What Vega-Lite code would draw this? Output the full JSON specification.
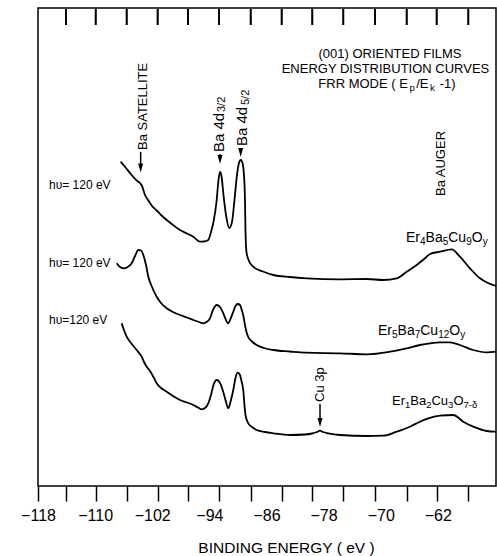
{
  "$schema": "https://vega.github.io/schema/vega-lite/v6.json",
  "width": 458,
  "height": 478,
  "autosize": {"type": "none"},
  "padding": {"left": 38, "top": 8, "right": 1, "bottom": 70},
  "background": "white",
  "config": {"view": {"stroke": "black", "strokeWidth": 1.5}},
  "datasets": {
    "curves": [
      {"s":"a","E":-106.42,"C":324.3},{"s":"a","E":-105.68,"C":318},{"s":"a","E":-104.88,"C":311},{"s":"a","E":-104.18,"C":305.5},{"s":"a","E":-103.71,"C":303},{"s":"a","E":-103.43,"C":300},{"s":"a","E":-103.01,"C":291},{"s":"a","E":-102.59,"C":286},{"s":"a","E":-102.03,"C":280},{"s":"a","E":-101.38,"C":275.5},{"s":"a","E":-100.77,"C":271},{"s":"a","E":-99.97,"C":266},{"s":"a","E":-99.09,"C":261},{"s":"a","E":-98.11,"C":256},{"s":"a","E":-97.13,"C":252.5},{"s":"a","E":-96.25,"C":249.3},{"s":"a","E":-95.31,"C":244.3},{"s":"a","E":-94.75,"C":244.5},{"s":"a","E":-94.15,"C":246},{"s":"a","E":-93.77,"C":254},{"s":"a","E":-93.45,"C":263},{"s":"a","E":-92.97,"C":286},{"s":"a","E":-92.72,"C":306},{"s":"a","E":-92.51,"C":314},{"s":"a","E":-92.30,"C":310},{"s":"a","E":-92.02,"C":291},{"s":"a","E":-91.67,"C":271},{"s":"a","E":-91.21,"C":258},{"s":"a","E":-90.83,"C":264},{"s":"a","E":-90.48,"C":286},{"s":"a","E":-90.13,"C":311},{"s":"a","E":-89.85,"C":323},{"s":"a","E":-89.61,"C":326},{"s":"a","E":-89.36,"C":323},{"s":"a","E":-89.15,"C":311},{"s":"a","E":-89.01,"C":286},{"s":"a","E":-88.94,"C":256},{"s":"a","E":-88.80,"C":234},{"s":"a","E":-88.45,"C":225},{"s":"a","E":-87.85,"C":219.3},{"s":"a","E":-86.49,"C":214.5},{"s":"a","E":-85.04,"C":211},{"s":"a","E":-82.71,"C":209},{"s":"a","E":-80.37,"C":207.7},{"s":"a","E":-75.70,"C":206.7},{"s":"a","E":-71.96,"C":207},{"s":"a","E":-69.64,"C":206},{"s":"a","E":-67.76,"C":207.7},{"s":"a","E":-66.36,"C":214.3},{"s":"a","E":-64.96,"C":221},{"s":"a","E":-63.80,"C":227.7},{"s":"a","E":-63.10,"C":232},{"s":"a","E":-61.70,"C":234.3},{"s":"a","E":-60.06,"C":236.7},{"s":"a","E":-58.90,"C":229.3},{"s":"a","E":-57.50,"C":217.7},{"s":"a","E":-56.10,"C":207.7},{"s":"a","E":-54.97,"C":203},{"s":"a","E":-53.85,"C":200},
      {"s":"b","E":-106.98,"C":222.7},{"s":"b","E":-106.52,"C":219},{"s":"b","E":-106.05,"C":217.7},{"s":"b","E":-105.54,"C":218.5},{"s":"b","E":-104.88,"C":222.7},{"s":"b","E":-104.41,"C":230},{"s":"b","E":-103.95,"C":236},{"s":"b","E":-103.57,"C":235.5},{"s":"b","E":-103.25,"C":231},{"s":"b","E":-102.87,"C":221},{"s":"b","E":-102.55,"C":209.3},{"s":"b","E":-102.03,"C":199},{"s":"b","E":-101.38,"C":189.3},{"s":"b","E":-100.77,"C":183},{"s":"b","E":-99.97,"C":177.7},{"s":"b","E":-99.09,"C":174},{"s":"b","E":-98.11,"C":171},{"s":"b","E":-97.13,"C":168.5},{"s":"b","E":-96.25,"C":166},{"s":"b","E":-95.45,"C":164},{"s":"b","E":-94.85,"C":162.7},{"s":"b","E":-94.40,"C":164},{"s":"b","E":-93.91,"C":167.7},{"s":"b","E":-93.49,"C":176},{"s":"b","E":-92.97,"C":181},{"s":"b","E":-92.51,"C":179},{"s":"b","E":-92.05,"C":172.7},{"s":"b","E":-91.67,"C":166},{"s":"b","E":-91.35,"C":162.7},{"s":"b","E":-91.04,"C":167},{"s":"b","E":-90.65,"C":174.3},{"s":"b","E":-90.34,"C":180},{"s":"b","E":-90.03,"C":182},{"s":"b","E":-89.71,"C":181},{"s":"b","E":-89.50,"C":177},{"s":"b","E":-89.25,"C":170.5},{"s":"b","E":-89.01,"C":161},{"s":"b","E":-88.80,"C":154},{"s":"b","E":-88.55,"C":149},{"s":"b","E":-88.03,"C":144.5},{"s":"b","E":-87.37,"C":141},{"s":"b","E":-86.35,"C":138},{"s":"b","E":-85.04,"C":136},{"s":"b","E":-82.71,"C":134.5},{"s":"b","E":-80.37,"C":133.3},{"s":"b","E":-75.70,"C":132.7},{"s":"b","E":-71.96,"C":131.7},{"s":"b","E":-68.70,"C":134.3},{"s":"b","E":-66.36,"C":137.7},{"s":"b","E":-64.50,"C":141},{"s":"b","E":-63.10,"C":142.7},{"s":"b","E":-61.70,"C":143.7},{"s":"b","E":-60.30,"C":143.7},{"s":"b","E":-58.90,"C":141},{"s":"b","E":-57.03,"C":136},{"s":"b","E":-55.16,"C":133.7},{"s":"b","E":-53.85,"C":134.3},
      {"s":"c","E":-106.28,"C":162.7},{"s":"c","E":-105.96,"C":156},{"s":"c","E":-105.58,"C":149.3},{"s":"c","E":-104.97,"C":143},{"s":"c","E":-104.18,"C":136},{"s":"c","E":-103.48,"C":129.3},{"s":"c","E":-103.15,"C":124},{"s":"c","E":-102.78,"C":119.3},{"s":"c","E":-102.31,"C":115},{"s":"c","E":-101.85,"C":109.3},{"s":"c","E":-101.38,"C":102.7},{"s":"c","E":-100.77,"C":98},{"s":"c","E":-99.97,"C":94.3},{"s":"c","E":-99.09,"C":90},{"s":"c","E":-98.11,"C":86},{"s":"c","E":-97.13,"C":83.5},{"s":"c","E":-96.25,"C":81},{"s":"c","E":-95.59,"C":78.5},{"s":"c","E":-95.07,"C":76.7},{"s":"c","E":-94.61,"C":78},{"s":"c","E":-94.15,"C":82.7},{"s":"c","E":-93.77,"C":91},{"s":"c","E":-93.42,"C":101},{"s":"c","E":-92.97,"C":106},{"s":"c","E":-92.58,"C":104},{"s":"c","E":-92.13,"C":96},{"s":"c","E":-91.74,"C":86},{"s":"c","E":-91.35,"C":77.7},{"s":"c","E":-90.97,"C":86},{"s":"c","E":-90.65,"C":96},{"s":"c","E":-90.34,"C":108},{"s":"c","E":-90.03,"C":113.3},{"s":"c","E":-89.71,"C":111},{"s":"c","E":-89.50,"C":105},{"s":"c","E":-89.25,"C":96},{"s":"c","E":-89.08,"C":81},{"s":"c","E":-88.94,"C":71},{"s":"c","E":-88.55,"C":62.7},{"s":"c","E":-88.03,"C":59},{"s":"c","E":-87.37,"C":56},{"s":"c","E":-86.21,"C":54},{"s":"c","E":-85.04,"C":52.7},{"s":"c","E":-82.71,"C":51},{"s":"c","E":-80.61,"C":51.5},{"s":"c","E":-79.62,"C":52.5},{"s":"c","E":-78.92,"C":54},{"s":"c","E":-78.50,"C":55.3},{"s":"c","E":-78.08,"C":54},{"s":"c","E":-77.34,"C":52.7},{"s":"c","E":-75.70,"C":51},{"s":"c","E":-71.96,"C":50},{"s":"c","E":-69.64,"C":50.3},{"s":"c","E":-67.76,"C":54.3},{"s":"c","E":-65.90,"C":59.3},{"s":"c","E":-64.50,"C":64.3},{"s":"c","E":-63.34,"C":67.7},{"s":"c","E":-61.70,"C":70.3},{"s":"c","E":-59.83,"C":71},{"s":"c","E":-58.43,"C":64.3},{"s":"c","E":-57.03,"C":59.3},{"s":"c","E":-55.16,"C":55},{"s":"c","E":-53.85,"C":54.3},
      {"s":"t01","E":-114.08,"C":477},{"s":"t01","E":-114.08,"C":461},
      {"s":"t02","E":-109.92,"C":477},{"s":"t02","E":-109.92,"C":461},
      {"s":"t03","E":-105.58,"C":477},{"s":"t03","E":-105.58,"C":461},
      {"s":"t04","E":-101.24,"C":477},{"s":"t04","E":-101.24,"C":461},
      {"s":"t05","E":-96.99,"C":477},{"s":"t05","E":-96.99,"C":461},
      {"s":"t06","E":-92.65,"C":477},{"s":"t06","E":-92.65,"C":461},
      {"s":"t07","E":-88.21,"C":477},{"s":"t07","E":-88.21,"C":461},
      {"s":"t08","E":-83.87,"C":477},{"s":"t08","E":-83.87,"C":461},
      {"s":"t09","E":-79.58,"C":477},{"s":"t09","E":-79.58,"C":461},
      {"s":"t10","E":-75.24,"C":477},{"s":"t10","E":-75.24,"C":461},
      {"s":"t11","E":-70.8,"C":477},{"s":"t11","E":-70.8,"C":461},
      {"s":"t12","E":-66.36,"C":477},{"s":"t12","E":-66.36,"C":461},
      {"s":"t13","E":-62.16,"C":477},{"s":"t13","E":-62.16,"C":461},
      {"s":"t14","E":-57.73,"C":477},{"s":"t14","E":-57.73,"C":461}
    ],
    "topticks": [
      {"E":-114.08,"C":477,"C2":461},{"E":-109.92,"C":477,"C2":461},{"E":-105.58,"C":477,"C2":461},{"E":-101.24,"C":477,"C2":461},{"E":-96.99,"C":477,"C2":461},{"E":-92.65,"C":477,"C2":461},{"E":-88.21,"C":477,"C2":461},{"E":-83.87,"C":477,"C2":461},{"E":-79.58,"C":477,"C2":461},{"E":-75.24,"C":477,"C2":461},{"E":-70.8,"C":477,"C2":461},{"E":-66.36,"C":477,"C2":461},{"E":-62.16,"C":477,"C2":461},{"E":-57.73,"C":477,"C2":461}
    ],
    "rules": [
      {"E":-103.62,"C":334,"C2":318},
      {"E":-92.51,"C":332,"C2":326.5},
      {"E":-89.61,"C":338,"C2":333.5},
      {"E":-78.50,"C":82,"C2":63.5}
    ],
    "heads": [
      {"E":-103.62,"C":318},
      {"E":-92.51,"C":326.5},
      {"E":-89.61,"C":333.5},
      {"E":-78.50,"C":63.5}
    ],
    "hv": [
      {"t":"hυ= 120 eV","E":-116.46,"C":297},
      {"t":"hυ= 120 eV","E":-116.46,"C":219},
      {"t":"hυ=120 eV","E":-116.46,"C":162}
    ],
    "titles": [
      {"t":"(001) ORIENTED FILMS","E":-68.70,"C":428},
      {"t":"ENERGY DISTRIBUTION CURVES","E":-69.33,"C":413}
    ],
    "line3": [
      {"t":"FRR MODE ( E","E":-78.74,"C":398},
      {"t":"/E","E":-65.03,"C":398},
      {"t":"-1)","E":-61.73,"C":398}
    ],
    "line3sub": [
      {"t":"p","E":-65.98,"C":395},
      {"t":"k","E":-63.10,"C":395}
    ],
    "f14": [
      {"t":"Er","E":-66.46,"C":244},{"t":"Ba","E":-63.71,"C":244},{"t":"Cu","E":-60.54,"C":244},{"t":"O","E":-57.24,"C":244},
      {"t":"Er","E":-70.38,"C":151},{"t":"Ba","E":-67.64,"C":151},{"t":"Cu","E":-64.46,"C":151},{"t":"O","E":-60.39,"C":151}
    ],
    "f10": [
      {"t":"4","E":-64.50,"C":241},{"t":"5","E":-61.32,"C":241},{"t":"9","E":-58.03,"C":241},{"t":"y","E":-55.72,"C":241},
      {"t":"5","E":-68.42,"C":148},{"t":"7","E":-65.24,"C":148},{"t":"12","E":-61.95,"C":148},{"t":"y","E":-58.87,"C":148}
    ],
    "f13": [
      {"t":"Er","E":-68.42,"C":81},{"t":"Ba","E":-65.86,"C":81},{"t":"Cu","E":-62.89,"C":81},{"t":"O","E":-59.82,"C":81}
    ],
    "f9": [
      {"t":"1","E":-66.60,"C":78},{"t":"2","E":-63.63,"C":78},{"t":"3","E":-60.56,"C":78},{"t":"7-δ","E":-58.41,"C":78}
    ],
    "rot": [
      {"t":"Ba SATELLITE","E":-103.36,"C":336},
      {"t":"Ba AUGER","E":-61.56,"C":290},
      {"t":"Cu 3p","E":-78.50,"C":84}
    ],
    "rot4d": [
      {"t":"Ba 4d","E":-92.65,"C":334},
      {"t":"Ba 4d","E":-89.36,"C":340}
    ],
    "rotsub": [
      {"t":"3/2","E":-92.16,"C":374},
      {"t":"5/2","E":-88.87,"C":381}
    ]
  },
  "resolve": {"axis": {"x": "independent"}},
  "layer": [
    {
      "data": {"name": "curves"},
      "mark": {"type": "line", "color": "black", "strokeWidth": 1.8, "interpolate": "monotone"},
      "encoding": {
        "x": {
          "field": "E", "type": "quantitative",
          "scale": {"domain": [-118, -53.85], "nice": false, "zero": false},
          "axis": {
            "orient": "bottom", "grid": false, "domain": false,
            "values": [-118, -110, -102, -94, -86, -78, -70, -62, -114.08, -109.92, -105.58, -101.24, -96.99, -92.65, -88.21, -83.87, -79.58, -75.24, -70.8, -66.36, -62.16, -57.73],
            "format": "d",
            "labelExpr": "datum.value % 1 === 0 ? datum.label : ''",
            "tickOpacity": {"condition": {"test": "datum.value % 1 !== 0 || datum.value === -118", "value": 1}, "value": 0},
            "tickSize": 15, "tickWidth": 1.5, "tickColor": "black",
            "labelFont": "Liberation Sans", "labelFontSize": 16, "labelColor": "black", "labelPadding": 6,
            "labelOverlap": false, "labelFlush": false, "labelBound": false,
            "title": "BINDING ENERGY ( eV )", "titleFont": "Liberation Sans", "titleFontSize": 15.5, "titleFontWeight": "normal", "titleColor": "black",
            "titleX": 248, "titleY": 66, "titleAlign": "center", "titleBaseline": "alphabetic", "titleAngle": 0
          }
        },
        "y": {
          "field": "C", "type": "quantitative",
          "scale": {"domain": [0, 478], "nice": false, "zero": false},
          "axis": {
            "orient": "left", "grid": false, "domain": false, "ticks": false, "labels": false,
            "title": "ELECTRON COUNTS ( ARBITRARY SCALE)", "titleFont": "Liberation Sans", "titleFontSize": 16.5, "titleFontWeight": "normal", "titleColor": "black",
            "titleX": -19, "titleY": 243.5, "titleAngle": 270, "titleAlign": "center", "titleBaseline": "middle"
          }
        },
        "detail": {"field": "s", "type": "nominal"}
      }
    },
    {
      "data": {"name": "rules"},
      "mark": {"type": "rule", "color": "black", "strokeWidth": 1.5},
      "encoding": {
        "x": {"field": "E", "type": "quantitative", "axis": null},
        "y": {"field": "C", "type": "quantitative", "axis": null},
        "y2": {"field": "C2"}
      }
    },
    {
      "data": {"name": "heads"},
      "mark": {"type": "point", "shape": "M-0.55,-1L0.55,-1L0,1Z", "size": 81, "filled": true, "color": "black", "opacity": 1},
      "encoding": {
        "x": {"field": "E", "type": "quantitative", "axis": null},
        "y": {"field": "C", "type": "quantitative", "axis": null}
      }
    },
    {
      "data": {"name": "hv"},
      "mark": {"type": "text", "font": "Liberation Sans", "fontSize": 12, "align": "left", "baseline": "alphabetic", "color": "black"},
      "encoding": {
        "x": {"field": "E", "type": "quantitative", "axis": null},
        "y": {"field": "C", "type": "quantitative", "axis": null},
        "text": {"field": "t"}
      }
    },
    {
      "data": {"name": "titles"},
      "mark": {"type": "text", "font": "Liberation Sans", "fontSize": 13, "align": "center", "baseline": "alphabetic", "color": "black"},
      "encoding": {
        "x": {"field": "E", "type": "quantitative", "axis": null},
        "y": {"field": "C", "type": "quantitative", "axis": null},
        "text": {"field": "t"}
      }
    },
    {
      "data": {"name": "line3"},
      "mark": {"type": "text", "font": "Liberation Sans", "fontSize": 13, "align": "left", "baseline": "alphabetic", "color": "black"},
      "encoding": {
        "x": {"field": "E", "type": "quantitative", "axis": null},
        "y": {"field": "C", "type": "quantitative", "axis": null},
        "text": {"field": "t"}
      }
    },
    {
      "data": {"name": "line3sub"},
      "mark": {"type": "text", "font": "Liberation Sans", "fontSize": 9.5, "align": "left", "baseline": "alphabetic", "color": "black"},
      "encoding": {
        "x": {"field": "E", "type": "quantitative", "axis": null},
        "y": {"field": "C", "type": "quantitative", "axis": null},
        "text": {"field": "t"}
      }
    },
    {
      "data": {"name": "f14"},
      "mark": {"type": "text", "font": "Liberation Sans", "fontSize": 14, "align": "left", "baseline": "alphabetic", "color": "black"},
      "encoding": {
        "x": {"field": "E", "type": "quantitative", "axis": null},
        "y": {"field": "C", "type": "quantitative", "axis": null},
        "text": {"field": "t"}
      }
    },
    {
      "data": {"name": "f10"},
      "mark": {"type": "text", "font": "Liberation Sans", "fontSize": 10, "align": "left", "baseline": "alphabetic", "color": "black"},
      "encoding": {
        "x": {"field": "E", "type": "quantitative", "axis": null},
        "y": {"field": "C", "type": "quantitative", "axis": null},
        "text": {"field": "t"}
      }
    },
    {
      "data": {"name": "f13"},
      "mark": {"type": "text", "font": "Liberation Sans", "fontSize": 13, "align": "left", "baseline": "alphabetic", "color": "black"},
      "encoding": {
        "x": {"field": "E", "type": "quantitative", "axis": null},
        "y": {"field": "C", "type": "quantitative", "axis": null},
        "text": {"field": "t"}
      }
    },
    {
      "data": {"name": "f9"},
      "mark": {"type": "text", "font": "Liberation Sans", "fontSize": 9.5, "align": "left", "baseline": "alphabetic", "color": "black"},
      "encoding": {
        "x": {"field": "E", "type": "quantitative", "axis": null},
        "y": {"field": "C", "type": "quantitative", "axis": null},
        "text": {"field": "t"}
      }
    },
    {
      "data": {"name": "rot"},
      "mark": {"type": "text", "font": "Liberation Sans", "fontSize": 13, "align": "left", "baseline": "middle", "angle": 270, "color": "black"},
      "encoding": {
        "x": {"field": "E", "type": "quantitative", "axis": null},
        "y": {"field": "C", "type": "quantitative", "axis": null},
        "text": {"field": "t"}
      }
    },
    {
      "data": {"name": "rot4d"},
      "mark": {"type": "text", "font": "Liberation Sans", "fontSize": 15, "align": "left", "baseline": "middle", "angle": 270, "color": "black"},
      "encoding": {
        "x": {"field": "E", "type": "quantitative", "axis": null},
        "y": {"field": "C", "type": "quantitative", "axis": null},
        "text": {"field": "t"}
      }
    },
    {
      "data": {"name": "rotsub"},
      "mark": {"type": "text", "font": "Liberation Sans", "fontSize": 11, "align": "left", "baseline": "middle", "angle": 270, "color": "black"},
      "encoding": {
        "x": {"field": "E", "type": "quantitative", "axis": null},
        "y": {"field": "C", "type": "quantitative", "axis": null},
        "text": {"field": "t"}
      }
    },
    {
      "data": {"name": "topticks"},
      "mark": {"type": "rule", "color": "black", "strokeWidth": 1.6},
      "encoding": {
        "x": {"field": "E", "type": "quantitative", "axis": null},
        "y": {"field": "C", "type": "quantitative", "axis": null},
        "y2": {"field": "C2"}
      }
    }
  ]
}
